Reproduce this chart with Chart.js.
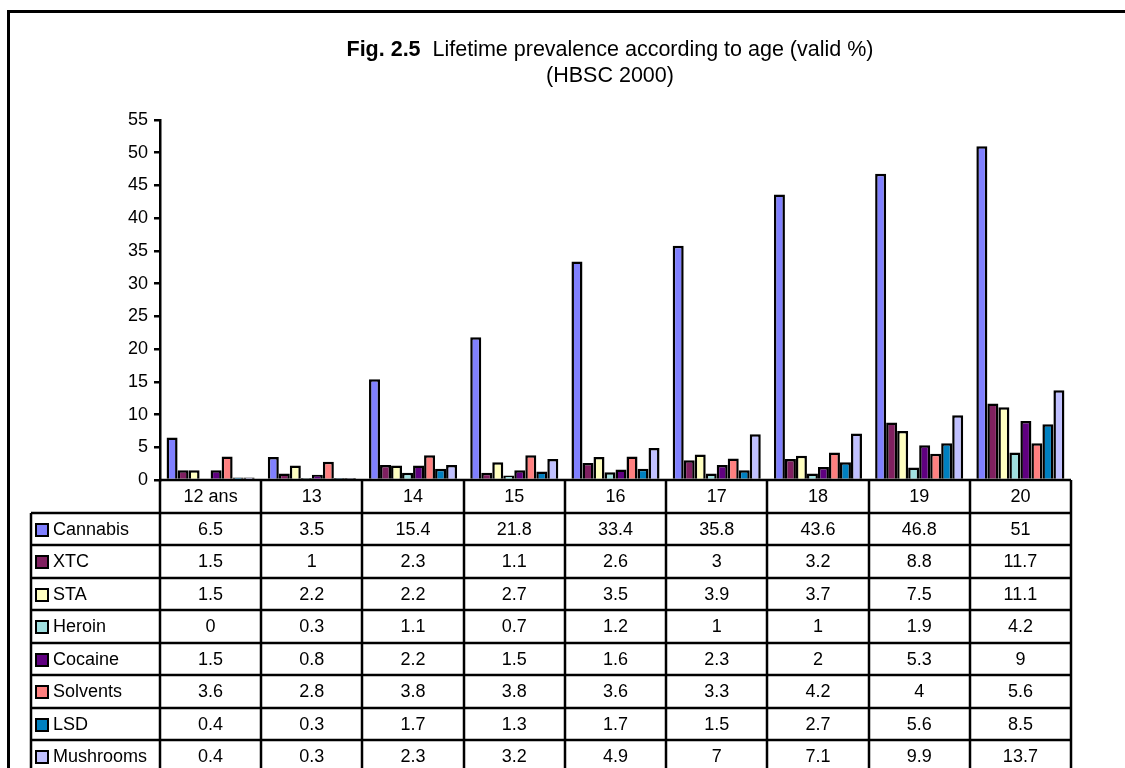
<!DOCTYPE html>
<html>
<head>
<meta charset="utf-8">
<script src="https://cdn.jsdelivr.net/npm/chart.js@4.4.1/dist/chart.umd.min.js"></script>
<style>
html,body{margin:0;padding:0;background:#fff;overflow:hidden;}
canvas{display:block;}
</style>
</head>
<body>
<canvas id="c" width="1125" height="768"></canvas>
<script>
const titleBold = "Fig. 2.5";
const titleRest = "  Lifetime prevalence according to age (valid %)";
const subtitle = "(HBSC 2000)";

const categories = ["12 ans", "13", "14", "15", "16", "17", "18", "19", "20"];
const seriesNames = ["Cannabis", "XTC", "STA", "Heroin", "Cocaine", "Solvents", "LSD", "Mushrooms"];
const cannabis  = [6.5, 3.5, 15.4, 21.8, 33.4, 35.8, 43.6, 46.8, 51];
const xtc       = [1.5, 1, 2.3, 1.1, 2.6, 3, 3.2, 8.8, 11.7];
const sta       = [1.5, 2.2, 2.2, 2.7, 3.5, 3.9, 3.7, 7.5, 11.1];
const heroin    = [0, 0.3, 1.1, 0.7, 1.2, 1, 1, 1.9, 4.2];
const cocaine   = [1.5, 0.8, 2.2, 1.5, 1.6, 2.3, 2, 5.3, 9];
const solvents  = [3.6, 2.8, 3.8, 3.8, 3.6, 3.3, 4.2, 4, 5.6];
const lsd       = [0.4, 0.3, 1.7, 1.3, 1.7, 1.5, 2.7, 5.6, 8.5];
const mushrooms = [0.4, 0.3, 2.3, 3.2, 4.9, 7, 7.1, 9.9, 13.7];
const seriesColors = ["#8080FF", "#802060", "#FFFFC0", "#A0E0E0", "#600080", "#FF8080", "#0080C0", "#C0C0FF"];
const yTicks = { min: 0, max: 55, step: 5 };

const seriesValues = [cannabis, xtc, sta, heroin, cocaine, solvents, lsd, mushrooms];
const FONT = '"Liberation Sans", Arial, sans-serif';

const framePlugin = {
  id: 'frameAndTable',
  afterDraw(chart) {
    const ctx = chart.ctx;
    const area = chart.chartArea;
    const xs = chart.scales.x;
    ctx.save();
    // outer frame
    ctx.strokeStyle = '#000';
    ctx.lineWidth = 3;
    ctx.strokeRect(8.5, 11.5, 1200, 900);

    // title
    ctx.fillStyle = '#000';
    ctx.textBaseline = 'middle';
    const tSize = 21.5;
    ctx.font = 'bold ' + tSize + 'px ' + FONT;
    const wb = ctx.measureText(titleBold).width;
    ctx.font = tSize + 'px ' + FONT;
    const wr = ctx.measureText(titleRest).width;
    const cx = 610;
    let sx = cx - (wb + wr) / 2;
    ctx.textAlign = 'left';
    ctx.font = 'bold ' + tSize + 'px ' + FONT;
    ctx.fillText(titleBold, sx, 50);
    ctx.font = tSize + 'px ' + FONT;
    ctx.fillText(titleRest, sx + wb, 50);
    ctx.textAlign = 'center';
    ctx.fillText(subtitle, cx, 76);

    // data table
    const n = categories.length;
    const colW = (area.right - area.left) / n;
    const top = area.bottom;
    const rowH = 32.5;
    const tableLeft = 31;
    const bottom = 800;
    ctx.lineWidth = 2.5;
    ctx.strokeStyle = '#000';
    ctx.beginPath();
    ctx.moveTo(area.left, top); ctx.lineTo(area.right, top);
    for (let r = 1; r <= seriesNames.length; r++) {
      const y = Math.round(top + r * rowH);
      ctx.moveTo(tableLeft, y); ctx.lineTo(area.right + 1, y);
    }
    for (let i = 0; i <= n; i++) {
      const x = Math.round(area.left + i * colW);
      ctx.moveTo(x, top); ctx.lineTo(x, bottom);
    }
    ctx.moveTo(tableLeft, Math.round(top + rowH)); ctx.lineTo(tableLeft, bottom);
    ctx.stroke();

    ctx.font = '18px ' + FONT;
    ctx.fillStyle = '#000';
    ctx.textBaseline = 'middle';
    ctx.textAlign = 'center';
    for (let i = 0; i < n; i++) {
      const x = xs.getPixelForValue(i);
      ctx.fillText(categories[i], x, top + rowH / 2 + 1);
    }
    for (let r = 0; r < seriesNames.length; r++) {
      const yc = top + (r + 1.5) * rowH + 1;
      ctx.fillStyle = seriesColors[r];
      ctx.fillRect(36, Math.round(yc) - 6, 12, 12);
      ctx.lineWidth = 2;
      ctx.strokeStyle = '#000';
      ctx.strokeRect(36, Math.round(yc) - 6, 12, 12);
      ctx.fillStyle = '#000';
      ctx.textAlign = 'left';
      ctx.fillText(seriesNames[r], 53, yc);
      ctx.textAlign = 'center';
      for (let i = 0; i < n; i++) {
        ctx.fillText(String(seriesValues[r][i]), xs.getPixelForValue(i), yc);
      }
    }
    ctx.restore();
  }
};

new Chart(document.getElementById('c'), {
  type: 'bar',
  data: {
    labels: categories,
    datasets: seriesNames.map((name, k) => ({
      label: name,
      data: seriesValues[k],
      backgroundColor: seriesColors[k],
      borderColor: '#000',
      borderWidth: 2.5,
      borderSkipped: 'start',
      categoryPercentage: 0.87,
      barPercentage: 1.0
    }))
  },
  options: {
    responsive: false,
    animation: false,
    devicePixelRatio: 1,
    layout: { padding: { left: 0, top: 120, right: 54, bottom: 288 } },
    plugins: { legend: { display: false }, title: { display: false }, tooltip: { enabled: false } },
    scales: {
      x: { display: false },
      y: {
        min: yTicks.min,
        max: yTicks.max,
        afterFit(scale) { scale.width = 160; },
        ticks: {
          stepSize: yTicks.step,
          color: '#000',
          padding: 6,
          font: { family: FONT, size: 18 }
        },
        grid: {
          drawOnChartArea: false,
          drawTicks: true,
          tickLength: 6,
          color: '#000',
          lineWidth: 2.5
        },
        border: { display: true, color: '#000', width: 2.5 }
      }
    }
  },
  plugins: [framePlugin]
});
</script>
</body>
</html>
